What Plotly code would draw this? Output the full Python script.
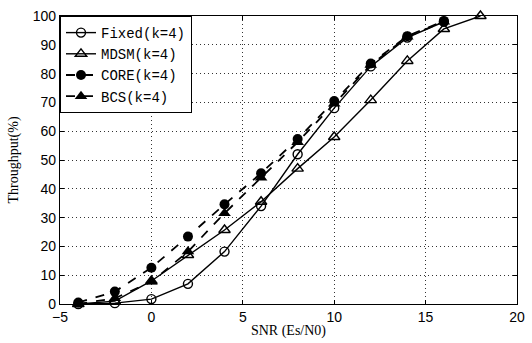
import plotly.graph_objects as go

snr = [-4, -2, 0, 2, 4, 6, 8, 10, 12, 14, 16]
snr_mdsm = [-4, -2, 0, 2, 4, 6, 8, 10, 12, 14, 16, 18]
fixed = [0, 0.3, 1.7, 7, 18.2, 34, 52, 68, 82.5, 92.5, 98]
mdsm = [0, 1, 8, 17, 25.7, 35.5, 47, 58, 70.8, 84.4, 95.5, 100]
core = [0.5, 4.3, 12.6, 23.4, 34.6, 45.4, 57.3, 70.5, 83.5, 93, 98.3]
bcs = [0, 2, 7.7, 18.2, 31.5, 43.8, 56.2, 69.5, 83, 92.8, 98]

x_ticks = [-5, 0, 5, 10, 15, 20]
y_ticks = list(range(0, 101, 10))

fig = go.Figure()
common = dict(mode="lines+markers", cliponaxis=False)
fig.add_trace(go.Scatter(x=snr, y=fixed, name="Fixed(k=4)",
    line=dict(color="black", width=1.4, dash="solid"),
    marker=dict(symbol="circle-open", size=9, color="black", line=dict(width=1.4)), **common))
fig.add_trace(go.Scatter(x=snr_mdsm, y=mdsm, name="MDSM(k=4)",
    line=dict(color="black", width=1.4, dash="solid"),
    marker=dict(symbol="triangle-up-open", size=10, color="black", line=dict(width=1.4)), **common))
fig.add_trace(go.Scatter(x=snr, y=core, name="CORE(k=4)",
    line=dict(color="black", width=1.8, dash="dash"),
    marker=dict(symbol="circle", size=10, color="black"), **common))
fig.add_trace(go.Scatter(x=snr, y=bcs, name="BCS(k=4)",
    line=dict(color="black", width=1.8, dash="dash"),
    marker=dict(symbol="triangle-up", size=11, color="black"), **common))

axis_common = dict(showline=True, linecolor="black", linewidth=1.3, mirror="ticks",
                   ticks="inside", ticklen=4, tickcolor="black",
                   showgrid=True, gridcolor="#333333", gridwidth=1, griddash="1px,3px",
                   zeroline=False, ticklabeloverflow="allow",
                   tickfont=dict(family="Liberation Sans", size=14, color="black"))

fig.update_xaxes(range=[-5, 20], tickvals=x_ticks,
                 title=dict(text="SNR (Es/N0)", font=dict(family="Liberation Serif", size=14, color="black"), standoff=1),
                 **axis_common)
fig.update_yaxes(range=[0, 100], tickvals=y_ticks,
                 title=dict(text="Throughput(%)", font=dict(family="Liberation Serif", size=14, color="black"), standoff=10),
                 **axis_common)

fig.update_layout(
    width=532, height=343,
    margin=dict(l=60, r=7, t=16, b=39),
    paper_bgcolor="white", plot_bgcolor="white",
    showlegend=True,
    legend=dict(x=0, y=1, xanchor="left", yanchor="top",
                bgcolor="white", bordercolor="black", borderwidth=1,
                font=dict(family="Liberation Mono", size=14, color="black"),
                tracegroupgap=0, itemwidth=30),
)

fig.write_html("out.html")
